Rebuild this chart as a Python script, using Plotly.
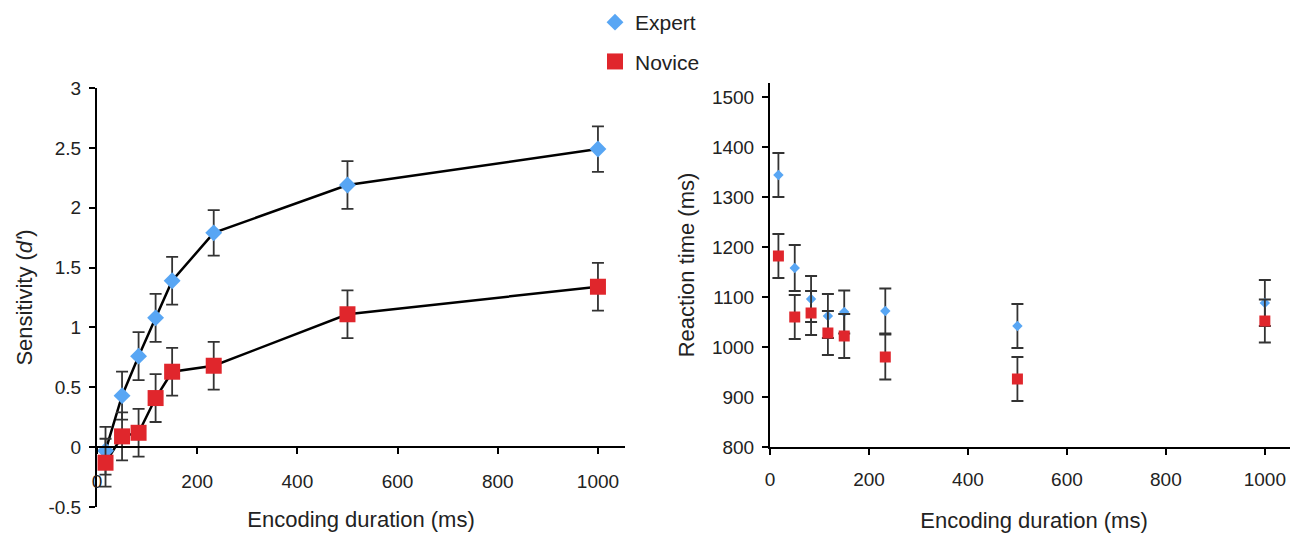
import plotly.graph_objects as go

# ---------------- data ----------------
durations = [17, 50, 83, 117, 150, 233, 500, 1000]

expert_dprime = [-0.03, 0.43, 0.76, 1.08, 1.39, 1.79, 2.19, 2.49]
expert_dprime_err = [0.20, 0.20, 0.20, 0.20, 0.20, 0.19, 0.20, 0.19]
novice_dprime = [-0.13, 0.09, 0.12, 0.41, 0.63, 0.68, 1.11, 1.34]
novice_dprime_err = [0.20, 0.20, 0.20, 0.20, 0.20, 0.20, 0.20, 0.20]

expert_rt = [1344, 1158, 1096, 1062, 1070, 1072, 1042, 1088]
expert_rt_err = [44, 46, 46, 44, 43, 45, 44, 46]
novice_rt = [1182, 1060, 1068, 1028, 1022, 980, 936, 1052]
novice_rt_err = [44, 44, 44, 44, 44, 45, 44, 43]

left_yticks = [-0.5, 0, 0.5, 1, 1.5, 2, 2.5, 3]
left_yticklabels = ["-0.5", "0", "0.5", "1", "1.5", "2", "2.5", "3"]
xticks = [0, 200, 400, 600, 800, 1000]
right_yticks = [800, 900, 1000, 1100, 1200, 1300, 1400, 1500]

# ---------------- style ----------------
BLUE = "#58A6F4"
RED = "#E0262C"
ERR = "#333333"
FONT = "Liberation Sans, Arial, sans-serif"

OFF = 8  # page body margin
W, H = 1298 - OFF, 537 - OFF
ML, MR, MT, MB = 60, 0, 10, 22
PW, PH = W - ML - MR, H - MT - MB


def px_x(p):
    return (p - OFF - ML) / PW


def px_y(p):
    return (H - MB - (p - OFF)) / PH


fig = go.Figure()

# ----- left panel -----
fig.add_trace(go.Scatter(x=durations, y=expert_dprime, mode="lines",
                         line=dict(color="black", width=2.5),
                         showlegend=False, xaxis="x", yaxis="y", hoverinfo="skip"))
fig.add_trace(go.Scatter(x=durations, y=novice_dprime, mode="lines",
                         line=dict(color="black", width=2.5),
                         showlegend=False, xaxis="x", yaxis="y", hoverinfo="skip"))
fig.add_trace(go.Scatter(x=durations, y=expert_dprime, mode="markers", name="Expert",
                         legendgroup="e",
                         marker=dict(symbol="diamond", size=13, color=BLUE),
                         error_y=dict(type="data", array=expert_dprime_err, color=ERR,
                                      thickness=1.8, width=6),
                         xaxis="x", yaxis="y", cliponaxis=False))
fig.add_trace(go.Scatter(x=durations, y=novice_dprime, mode="markers", name="Novice",
                         legendgroup="n",
                         marker=dict(symbol="square", size=16, color=RED),
                         error_y=dict(type="data", array=novice_dprime_err, color=ERR,
                                      thickness=1.8, width=6),
                         xaxis="x", yaxis="y", cliponaxis=False))

# ----- right panel -----
fig.add_trace(go.Scatter(x=durations, y=expert_rt, mode="markers", name="Expert",
                         legendgroup="e", showlegend=False,
                         marker=dict(symbol="diamond", size=8, color=BLUE),
                         error_y=dict(type="data", array=expert_rt_err, color=ERR,
                                      thickness=1.8, width=6),
                         xaxis="x2", yaxis="y2", cliponaxis=False))
fig.add_trace(go.Scatter(x=durations, y=novice_rt, mode="markers", name="Novice",
                         legendgroup="n", showlegend=False,
                         marker=dict(symbol="square", size=11, color=RED),
                         error_y=dict(type="data", array=novice_rt_err, color=ERR,
                                      thickness=1.8, width=6),
                         xaxis="x2", yaxis="y2", cliponaxis=False))

axis_common = dict(showline=True, linecolor="black", linewidth=2, ticks="outside",
                   ticklen=6, tickwidth=2, tickcolor="black", showgrid=False,
                   zeroline=False, automargin=False,
                   tickfont=dict(family=FONT, size=19, color="#222"),
                   title_font=dict(family=FONT, size=22, color="#222"))

fig.update_layout(
    width=W, height=H,
    margin=dict(l=ML, r=MR, t=MT, b=MB, autoexpand=False),
    paper_bgcolor="white", plot_bgcolor="white",
    font=dict(family=FONT, size=19, color="#222"),
    xaxis=dict(**axis_common, domain=[px_x(97), px_x(625)], range=[0, 1054],
               anchor="free", position=px_y(447), tickvals=xticks,
               ticklabelstandoff=11,
               title=dict(text="Encoding duration (ms)", standoff=20)),
    yaxis=dict(**axis_common, domain=[px_y(507), px_y(88)], range=[-0.5, 3.0],
               anchor="x", tickvals=left_yticks, ticktext=left_yticklabels,
               ticklabelstandoff=4,
               title=dict(text="Sensitivity (<i>d'</i>)", standoff=10)),
    xaxis2=dict(**axis_common, domain=[px_x(770), px_x(1298)], range=[0, 1067],
                anchor="y2", tickvals=xticks, ticklabelstandoff=8,
                title=dict(text="Encoding duration (ms)", standoff=24)),
    yaxis2=dict(**axis_common, domain=[px_y(447), px_y(83)], range=[800, 1528],
                anchor="x2", tickvals=right_yticks, ticklabelstandoff=4,
                title=dict(text="Reaction time (ms)", standoff=11)),
    legend=dict(x=px_x(595), y=px_y(2), xanchor="left", yanchor="top",
                font=dict(family=FONT, size=21, color="#222"),
                tracegroupgap=9, bgcolor="rgba(0,0,0,0)"),
)

fig.write_html("out.html")
